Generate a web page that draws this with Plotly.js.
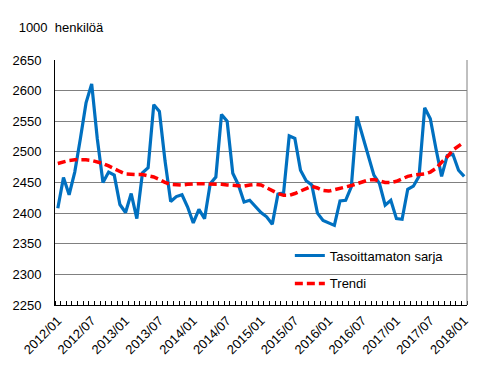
<!DOCTYPE html>
<html>
<head>
<meta charset="utf-8">
<script src="https://cdn.plot.ly/plotly-3.0.1.min.js"></script>
<style>html,body{margin:0;padding:0;background:#fff;}#chart{width:491px;height:370px;}</style>
</head>
<body>
<div id="chart"></div>
<script>
// Months 2012/01 .. 2018/01
const months = [];
for (let y = 2012; y <= 2018; y++) {
  for (let m = 1; m <= 12; m++) {
    if (y === 2018 && m > 1) break;
    months.push(y + '/' + String(m).padStart(2, '0'));
  }
}
const tickLabels = ['2012/01','2012/07','2013/01','2013/07','2014/01','2014/07','2015/01','2015/07','2016/01','2016/07','2017/01','2017/07','2018/01'];

const unadjusted = [
  2408,2458,2430,2467,2522,2580,2611,2521,2450,2467,2462,2414,
  2401,2432,2391,2466,2474,2577,2566,2485,2419,2427,2430,2410,
  2384,2406,2391,2448,2459,2561,2550,2465,2446,2418,2421,2411,
  2401,2394,2382,2431,2433,2526,2522,2470,2453,2446,2400,2388,
  2384,2380,2420,2421,2443,2558,2526,2494,2462,2448,2413,2421,
  2391,2390,2439,2444,2460,2572,2554,2505,2460,2494,2496,2470,
  2460
];
const trend = [
  2481,2484,2486,2487,2487.5,2487,2486,2484,2481,2477,2472,2468,
  2464,2463,2463,2463,2461,2459,2455,2450,2447,2446,2446,2447,
  2448,2448,2448,2448,2448,2447,2446,2445,2444,2444,2446,2447,
  2446,2441,2436,2432,2429,2429,2432,2436,2441,2444,2441,2437,
  2436,2438,2440,2442,2445,2448,2451,2454,2455,2453,2450,2450,
  2452,2456,2460,2462,2463,2464,2467,2473,2483,2492,2503,2510,
  2516
];

const idx = months.map((_, i) => i);
const tickvals = tickLabels.map(l => months.indexOf(l));
const boundaries = [];
for (let i = 0; i <= months.length; i++) boundaries.push(i - 0.5);

const font = 'Liberation Sans, Arial, sans-serif';

const traces = [
  {
    x: idx, y: unadjusted, text: months, type: 'scatter', mode: 'lines',
    name: 'Tasoittamaton sarja', legendgroup: 'a',
    line: {color: '#0070C0', width: 3.2}
  },
  {
    x: idx, y: trend, text: months, type: 'scatter', mode: 'lines',
    name: 'Trendi', legendgroup: 'b',
    line: {color: '#FF0000', width: 3.5, dash: '8px,4px'}
  }
];

const layout = {
  width: 491, height: 370,
  margin: {l: 55, r: 24, t: 60, b: 65},
  paper_bgcolor: '#fff', plot_bgcolor: '#fff',
  font: {family: font, size: 13, color: '#000'},
  showlegend: true,
  title: {
    text: '1000&nbsp;&nbsp;henkilöä', xref: 'container', yref: 'container',
    x: 0.038, xanchor: 'left', y: 0.925, yanchor: 'middle',
    font: {family: font, size: 13, color: '#000'}
  },
  xaxis: {
    range: [-0.5, months.length - 0.5],
    tickmode: 'array', tickvals: tickvals, ticktext: tickLabels,
    tickangle: -45, ticks: '', showgrid: false, zeroline: false,
    showline: true, linecolor: '#000', linewidth: 1,
    ticklabelstandoff: 2,
    tickfont: {family: font, size: 13, color: '#000'},
    minor: {tickmode: 'array', tickvals: boundaries, ticks: 'inside', ticklen: 4, tickcolor: '#000', tickwidth: 1, showgrid: false}
  },
  yaxis: {
    range: [2250, 2650], dtick: 50, tick0: 2250,
    showgrid: true, gridcolor: '#808080', gridwidth: 1,
    zeroline: false, showline: true, linecolor: '#000', linewidth: 1,
    ticks: '', ticklabelstandoff: 10,
    tickfont: {family: font, size: 13, color: '#000'}
  },
  legend: {
    x: 0.57, xanchor: 'left', y: 0.263, yanchor: 'top',
    bgcolor: 'rgba(0,0,0,0)', borderwidth: 0,
    traceorder: 'grouped', tracegroupgap: 8,
    font: {family: font, size: 13, color: '#000'}
  },
  shapes: [
    {type: 'rect', xref: 'paper', yref: 'paper', x0: 0.51, x1: 0.9886, y0: 0.005, y1: 0.261,
     fillcolor: '#fff', line: {width: 0}, layer: 'between'},
    {type: 'line', xref: 'paper', yref: 'paper', x0: 1, x1: 1, y0: 0, y1: 1,
     line: {color: '#808080', width: 1}, layer: 'above'}
  ]
};

Plotly.newPlot('chart', traces, layout, {displayModeBar: false, staticPlot: true});
</script>
</body>
</html>
